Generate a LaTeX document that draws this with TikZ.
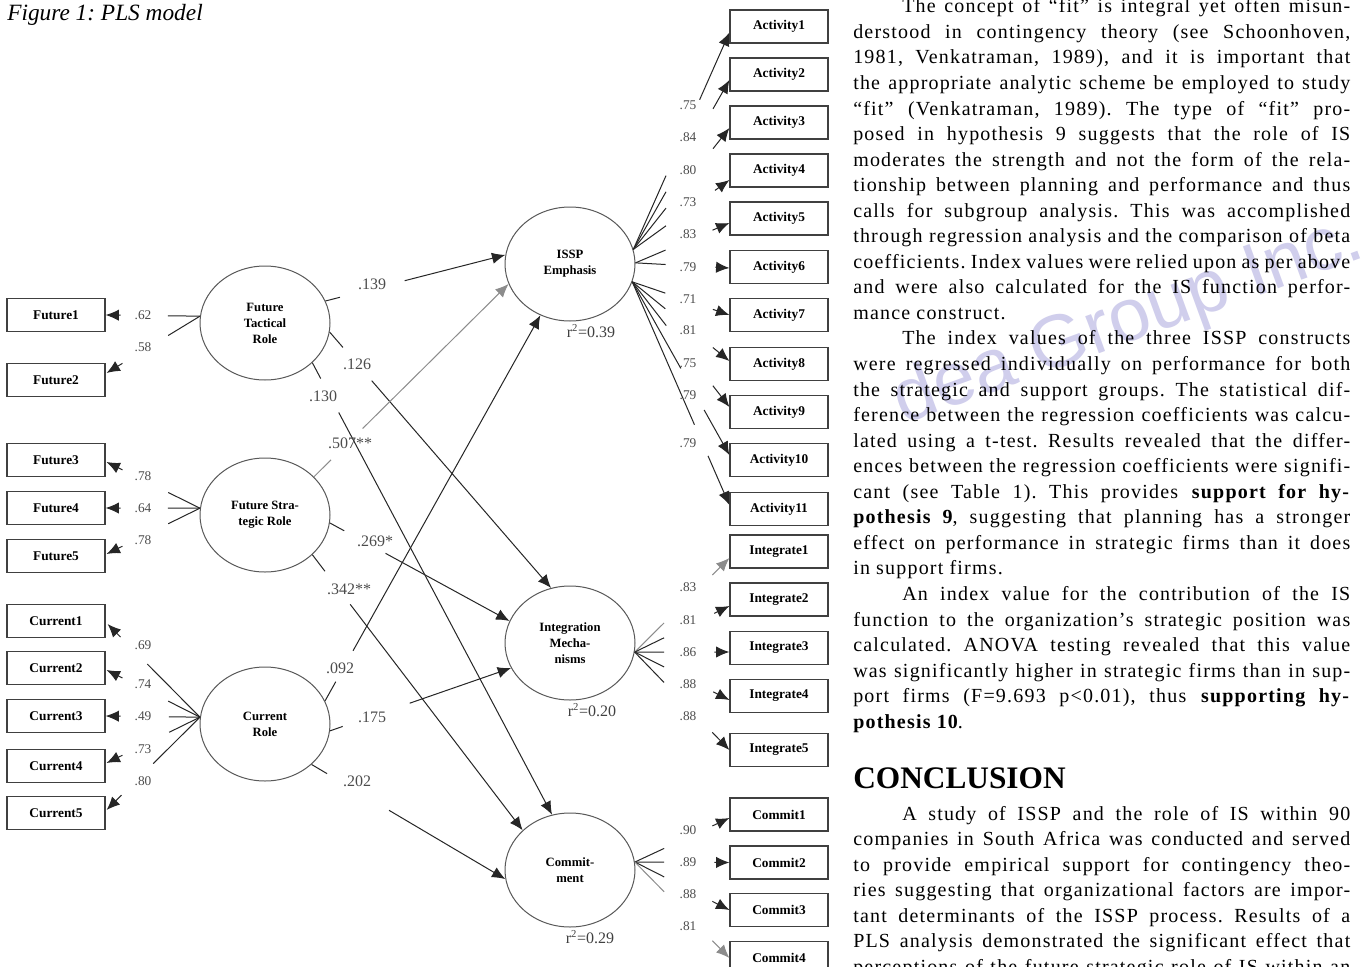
\documentclass[tikz,border=0pt]{standalone}
\usepackage{fontspec}
\setmainfont{Liberation Serif}
\newfontfamily\bodyfont{Liberation Serif}[LetterSpace=6]
\newfontfamily\wmfont{Liberation Sans}
\usetikzlibrary{calc,shapes.geometric,arrows.meta}
\definecolor{wmcol}{RGB}{208,206,236}
\frenchspacing
\tikzset{
 ind/.style={draw=black!75,line width=0.9pt,minimum width=73.5pt,minimum height=24.75pt,inner sep=0pt,font=\bfseries\fontsize{10}{12}\selectfont},
 lat/.style={ellipse,draw=black!65,line width=0.75pt,minimum width=97.5pt,minimum height=85.5pt,inner sep=0pt,align=center,font=\bfseries\fontsize{9.5}{12}\selectfont},
 conn/.style={draw=black!85,line width=0.75pt},
 tipped/.style={-{Latex[length=10pt,width=8.5pt]}},
 load/.style={text=black!70,font=\fontsize{10}{12}\selectfont,inner sep=0pt},
 coef/.style={text=black!70,font=\fontsize{12}{14}\selectfont,inner sep=0pt},
 rsq/.style={text=black!75,font=\fontsize{12}{14}\selectfont,inner sep=0pt},
 txt/.style={anchor=base west,inner sep=0pt,font=\bodyfont\fontsize{15}{19}\selectfont\frenchspacing},
}
\newcommand\gapline[5][]{%
 \draw[conn,#1] (#2) -- ($(#2)!#4!(#3)$);
 \draw[conn,tipped,#1] ($(#2)!#5!(#3)$) -- (#3);}
\newcommand\jl[3]{\node[txt] (#1) at (853,#2) {\makebox[372.75pt][s]{#3}};}
\newcommand\ji[3]{\node[txt] (#1) at (902,#2) {\makebox[336pt][s]{#3}};}
\newcommand\pl[3]{\node[txt] (#1) at (853,#2) {#3};}
\begin{document}
\begin{tikzpicture}[x=0.75pt,y=-0.75pt]
\clip (0,0) rectangle (1364,967);
\fill[white] (0,0) rectangle (1364,967);

% watermark
\node[rotate=20,anchor=base west,inner sep=0pt,text=wmcol,font=\wmfont\fontsize{56}{56}\selectfont] (wm) at (903,425) {dea Group Inc.};

% caption
\node[anchor=base west,inner sep=0pt,font=\itshape\fontsize{17.5}{20}\selectfont] (cap) at (7,20) {Figure 1: PLS model};

% latent variables
\node[lat] (FTR) at (265,323) {Future\\Tactical\\Role};
\node[lat] (FSR) at (265,515) {Future Stra-\\tegic Role};
\node[lat] (CUR) at (265,724) {Current\\Role};
\node[lat] (ISSP) at (570,264) {ISSP\\Emphasis};
\node[lat] (INT) at (570,643) {Integration\\Mecha-\\nisms};
\node[lat] (COM) at (570,870) {Commit-\\ment};

% left indicators
\node[ind] (F1) at (56,315) {Future1};
\node[ind] (F2) at (56,380) {Future2};
\node[ind] (F3) at (56,460) {Future3};
\node[ind] (F4) at (56,508) {Future4};
\node[ind] (F5) at (56,556) {Future5};
\node[ind] (C1) at (56,621) {Current1};
\node[ind] (C2) at (56,668) {Current2};
\node[ind] (C3) at (56,716) {Current3};
\node[ind] (C4) at (56,766) {Current4};
\node[ind] (C5) at (56,813) {Current5};

% right indicators
\node[ind] (A1) at (779,26.5) {Activity1};
\node[ind] (A2) at (779,74.5) {Activity2};
\node[ind] (A3) at (779,122.5) {Activity3};
\node[ind] (A4) at (779,170.5) {Activity4};
\node[ind] (A5) at (779,218.5) {Activity5};
\node[ind] (A6) at (779,267) {Activity6};
\node[ind] (A7) at (779,315) {Activity7};
\node[ind] (A8) at (779,364) {Activity8};
\node[ind] (A9) at (779,412) {Activity9};
\node[ind] (A10) at (779,460) {Activity10};
\node[ind] (A11) at (779,509) {Activity11};
\node[ind] (I1) at (779,551.5) {Integrate1};
\node[ind] (I2) at (779,599.5) {Integrate2};
\node[ind] (I3) at (779,648) {Integrate3};
\node[ind] (I4) at (779,696) {Integrate4};
\node[ind] (I5) at (779,750) {Integrate5};
\node[ind] (M1) at (779,814.5) {Commit1};
\node[ind] (M2) at (779,862.5) {Commit2};
\node[ind] (M3) at (779,910) {Commit3};
\node[ind] (M4) at (779,958) {Commit4};

% arrow tip points
\coordinate (tF2) at ($(F2.east)+(1,-7)$);
\coordinate (tF3) at ($(F3.east)+(1,2)$);
\coordinate (tF5) at ($(F5.east)+(1,-2)$);
\coordinate (tC1) at ($(C1.east)+(2,3)$);
\coordinate (tC2) at ($(C2.east)+(1,2)$);
\coordinate (tC4) at ($(C4.east)+(1,-3)$);
\coordinate (tC5) at ($(C5.east)+(1,-3)$);
\coordinate (tA1) at ($(A1.west)+(0,6)$);
\coordinate (tA2) at ($(A2.west)+(0,5.5)$);
\coordinate (tA3) at ($(A3.west)+(0,5.5)$);
\coordinate (tA4) at ($(A4.west)+(0,9.5)$);
\coordinate (tA5) at ($(A5.west)+(0,4.5)$);
\coordinate (tA6) at ($(A6.west)+(0,1)$);
\coordinate (tA8) at ($(A8.west)+(0,-3)$);
\coordinate (tA9) at ($(A9.west)+(0,-5)$);
\coordinate (tA10) at ($(A10.west)+(0,-5)$);
\coordinate (tA11) at ($(A11.west)+(0,-4)$);
\coordinate (tI1) at ($(I1.west)+(0,6.5)$);
\coordinate (tI2) at ($(I2.west)+(0,6.5)$);
\coordinate (tI3) at ($(I3.west)+(0,4)$);
\coordinate (tI4) at ($(I4.west)+(0,4)$);
\coordinate (tM1) at ($(M1.west)+(0,3.5)$);

% measurement connectors (left)
\gapline{FTR.174}{F1.east}{0.34}{0.84}
\gapline{FTR.174}{tF2}{0.34}{0.83}
\gapline{FSR.174}{tF3}{0.34}{0.83}
\gapline{FSR.174}{F4.east}{0.34}{0.84}
\gapline{FSR.174}{tF5}{0.34}{0.83}
\gapline{CUR.174}{tC1}{0.57}{0.86}
\gapline{CUR.174}{tC2}{0.34}{0.83}
\gapline{CUR.174}{C3.east}{0.33}{0.84}
\gapline{CUR.174}{tC4}{0.33}{0.83}
\gapline{CUR.174}{tC5}{0.5}{0.84}

% measurement connectors (right)
\gapline{ISSP.13}{tA1}{0.34}{0.69}
\gapline{ISSP.13}{tA2}{0.34}{0.83}
\gapline{ISSP.13}{tA3}{0.34}{0.83}
\gapline{ISSP.13}{tA4}{0.34}{0.85}
\gapline{ISSP.1}{tA5}{0.32}{0.82}
\gapline{ISSP.1}{tA6}{0.32}{0.85}
\gapline{ISSP.-16}{A7.west}{0.34}{0.83}
\gapline{ISSP.-16}{tA8}{0.34}{0.83}
\gapline{ISSP.-16}{tA9}{0.35}{0.83}
\gapline{ISSP.-16}{tA10}{0.5}{0.74}
\gapline{ISSP.-16}{tA11}{0.64}{0.78}
\gapline[draw=black!45]{INT.-8}{tI1}{0.31}{0.82}
\gapline{INT.-8}{tI2}{0.31}{0.84}
\gapline{INT.-8}{tI3}{0.31}{0.84}
\gapline{INT.-8}{tI4}{0.31}{0.83}
\gapline{INT.-8}{I5.west}{0.31}{0.82}
\gapline{COM.7}{tM1}{0.31}{0.82}
\gapline{COM.7}{M2.west}{0.31}{0.84}
\gapline{COM.7}{M3.west}{0.31}{0.82}
\gapline[draw=black!45]{COM.7}{M4.west}{0.31}{0.82}

% structural paths
\gapline{FTR.20}{ISSP.172}{0.08}{0.44}
\gapline{FTR.-8}{INT.109}{0.06}{0.19}
\gapline{FTR.-40}{COM.108}{0.035}{0.11}
\gapline[draw=black!45]{FSR.38}{ISSP.198}{0.088}{0.25}
\gapline{FSR.-7}{INT.160}{0.08}{0.31}
\gapline{FSR.-40}{COM.140}{0.06}{0.18}
\gapline{CUR.21}{ISSP.240}{0.05}{0.13}
\gapline{CUR.-6}{INT.203}{0.07}{0.44}
\gapline{CUR.-41}{COM.188}{0.08}{0.4}

% path coefficients
\node[coef] (k1) at (372,284) {.139};
\node[coef] (k2) at (357,364) {.126};
\node[coef] (k3) at (323,396) {.130};
\node[coef] (k4) at (350,443) {.507**};
\node[coef] (k5) at (375,541) {.269*};
\node[coef] (k6) at (349,589) {.342**};
\node[coef] (k7) at (340,668) {.092};
\node[coef] (k8) at (372,717) {.175};
\node[coef] (k9) at (357,781) {.202};

% r squared
\node[rsq] (r1) at (591,331) {r\textsuperscript{2}=0.39};
\node[rsq] (r2) at (592,710) {r\textsuperscript{2}=0.20};
\node[rsq] (r3) at (590,937) {r\textsuperscript{2}=0.29};

% loadings left
\node[load] (lf1) at (143,315) {.62};
\node[load] (lf2) at (143,347) {.58};
\node[load] (lf3) at (143,476) {.78};
\node[load] (lf4) at (143,508) {.64};
\node[load] (lf5) at (143,540) {.78};
\node[load] (lc1) at (143,645) {.69};
\node[load] (lc2) at (143,684) {.74};
\node[load] (lc3) at (143,716) {.49};
\node[load] (lc4) at (143,749) {.73};
\node[load] (lc5) at (143,781) {.80};
% loadings right
\node[load] (la1) at (688,105) {.75};
\node[load] (la2) at (688,137) {.84};
\node[load] (la3) at (688,170) {.80};
\node[load] (la4) at (688,202) {.73};
\node[load] (la5) at (688,234) {.83};
\node[load] (la6) at (688,267) {.79};
\node[load] (la7) at (688,299) {.71};
\node[load] (la8) at (688,330) {.81};
\node[load] (la9) at (688,363) {.75};
\node[load] (la10) at (688,395) {.79};
\node[load] (la11) at (688,443) {.79};
\node[load] (li1) at (688,587) {.83};
\node[load] (li2) at (688,620) {.81};
\node[load] (li3) at (688,652) {.86};
\node[load] (li4) at (688,684) {.88};
\node[load] (li5) at (688,716) {.88};
\node[load] (lm1) at (688,830) {.90};
\node[load] (lm2) at (688,862) {.89};
\node[load] (lm3) at (688,894) {.88};
\node[load] (lm4) at (688,926) {.81};

% text column
\ji{t1}{12.8}{The concept of “fit” is integral yet often misun-}
\jl{t2}{38.35}{derstood in contingency theory (see Schoonhoven,}
\jl{t3}{63.9}{1981, Venkatraman, 1989), and it is important that}
\jl{t4}{89.45}{the appropriate analytic scheme be employed to study}
\jl{t5}{115.0}{“fit” (Venkatraman, 1989). The type of “fit” pro-}
\jl{t6}{140.55}{posed in hypothesis 9 suggests that the role of IS}
\jl{t7}{166.1}{moderates the strength and not the form of the rela-}
\jl{t8}{191.65}{tionship between planning and performance and thus}
\jl{t9}{217.2}{calls for subgroup analysis. This was accomplished}
\jl{t10}{242.75}{through regression analysis and the comparison of beta}
\jl{t11}{268.3}{coefficients. Index values were relied upon as per above}
\jl{t12}{293.85}{and were also calculated for the IS function perfor-}
\pl{t13}{319.4}{mance construct.}
\ji{t14}{344.95}{The index values of the three ISSP constructs}
\jl{t15}{370.5}{were regressed individually on performance for both}
\jl{t16}{396.05}{the strategic and support groups. The statistical dif-}
\jl{t17}{421.6}{ference between the regression coefficients was calcu-}
\jl{t18}{447.15}{lated using a t-test. Results revealed that the differ-}
\jl{t19}{472.7}{ences between the regression coefficients were signifi-}
\jl{t20}{498.25}{cant (see Table 1). This provides \textbf{support for hy-}}
\jl{t21}{523.8}{\textbf{pothesis 9}, suggesting that planning has a stronger}
\jl{t22}{549.35}{effect on performance in strategic firms than it does}
\pl{t23}{574.9}{in support firms.}
\ji{t24}{600.45}{An index value for the contribution of the IS}
\jl{t25}{626.0}{function to the organization’s strategic position was}
\jl{t26}{651.55}{calculated. ANOVA testing revealed that this value}
\jl{t27}{677.1}{was significantly higher in strategic firms than in sup-}
\jl{t28}{702.65}{port firms (F=9.693 p<0.01), thus \textbf{supporting hy-}}
\pl{t29}{728.2}{\textbf{pothesis 10}.}
\node[anchor=base west,inner sep=0pt,font=\bfseries\fontsize{23.5}{26}\selectfont] (head) at (853,788) {CONCLUSION};
\ji{t30}{820}{A study of ISSP and the role of IS within 90}
\jl{t31}{845.55}{companies in South Africa was conducted and served}
\jl{t32}{871.1}{to provide empirical support for contingency theo-}
\jl{t33}{896.65}{ries suggesting that organizational factors are impor-}
\jl{t34}{922.2}{tant determinants of the ISSP process. Results of a}
\jl{t35}{947.75}{PLS analysis demonstrated the significant effect that}
\jl{t36}{973.3}{perceptions of the future strategic role of IS within an}
\end{tikzpicture}
\end{document}
